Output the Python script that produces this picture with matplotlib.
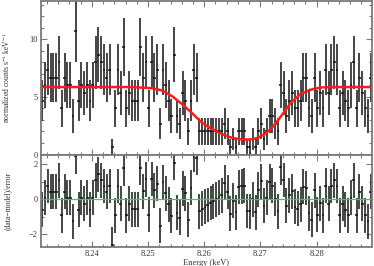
#!/usr/bin/env python3
"""Fe K absorption line spectrum with residuals, XSPEC-like style."""

import numpy as np

import matplotlib

matplotlib.use("Agg")
import matplotlib.pyplot as plt
from matplotlib.ticker import MultipleLocator

plt.rcParams["font.family"] = ["Liberation Serif", "DejaVu Serif"]
plt.rcParams["mathtext.fontset"] = "stix"

E_FIRST = 8.23115     # centre of first bin [keV]
BIN_WIDTH = 0.0005    # [keV]
EXPOSURE = 3000.0     # [s]

# counts per 0.5 eV bin (1 count = 0.667 cts/s/keV)
counts = [
    7, 9, 11, 10, 10, 10, 12, 6, 10, 9, 9, 5, 16, 7, 9, 8, 9, 7, 9, 12,
    13, 12, 11, 10, 11, 1, 6, 11, 8, 14, 6, 8, 7, 7, 7, 14, 10, 12, 6, 12,
    10, 11, 4, 11, 9, 7, 5, 13, 5, 4, 8, 7, 3, 7, 11, 10, 3, 3, 3, 3, 3,
    3, 3, 3, 3, 4, 3, 1, 2, 1, 3, 3, 3, 1, 1, 2, 1, 3, 4, 2, 3, 5, 5, 4, 3,
    9, 8, 5, 7, 8, 6, 6, 7, 10, 10, 6, 5, 10, 6, 8, 6,
    11, 8, 11, 12, 11, 6, 8, 7, 6, 9, 12, 6, 10, 8, 6, 5, 10,
]

# model curve (red), read at points along the line
model_energy = [8.2309, 8.2468, 8.2507, 8.2525, 8.2543, 8.2561, 8.2578, 8.2596,
                8.2614, 8.2632, 8.2649, 8.2667, 8.2681, 8.2696, 8.2710, 8.2724,
                8.2738, 8.2753, 8.2770, 8.2788, 8.2806, 8.2824, 8.2899]
model_rate = [5.85, 5.85, 5.75, 5.55, 5.05, 4.35, 3.6, 2.75,
              2.2, 1.75, 1.45, 1.3, 1.3, 1.45, 1.85, 2.5,
              3.4, 4.4, 5.2, 5.6, 5.8, 5.85, 5.85]

XLIM = (8.2309, 8.2899)
FRAME = "#7a7a7a"
TEXT = "#333333"
BARS = "#141414"


def style_axis(ax):
    for sp in ax.spines.values():
        sp.set_color(FRAME)
        sp.set_linewidth(1.3)
    ax.tick_params(which="both", direction="in", top=True, right=True,
                   color=FRAME, labelcolor=TEXT, labelsize=6, pad=2)
    ax.tick_params(which="major", length=4, width=0.8)
    ax.tick_params(which="minor", length=2, width=0.8)


def main():
    cnt = np.asarray(counts, dtype=float)
    scale = 1.0 / (EXPOSURE * BIN_WIDTH)
    energy = E_FIRST + BIN_WIDTH * np.arange(len(cnt))
    rate = cnt * scale
    rate_err = np.sqrt(cnt) * scale
    model_bin = np.interp(energy, model_energy, model_rate)
    resid = (rate - model_bin) / (np.sqrt(model_bin / scale) * scale)

    fig = plt.figure(figsize=(3.74, 2.66), dpi=100)
    ax1 = fig.add_axes([0.109, 0.417, 0.886, 0.581])
    ax2 = fig.add_axes([0.109, 0.071, 0.886, 0.346], sharex=ax1)

    ax1.errorbar(energy, rate, xerr=BIN_WIDTH / 2, yerr=rate_err, fmt="none",
                 ecolor=BARS, elinewidth=1.1, capsize=0)
    ax1.plot(model_energy, model_rate, color="#ff1a1a", linewidth=1.8)
    ax1.set_xlim(*XLIM)
    ax1.set_ylim(-0.05, 13.35)
    ax1.yaxis.set_major_locator(MultipleLocator(5))
    ax1.yaxis.set_minor_locator(MultipleLocator(1))
    ax1.xaxis.set_major_locator(MultipleLocator(0.01))
    ax1.xaxis.set_minor_locator(MultipleLocator(0.002))
    ax1.set_ylabel(r"normalized counts s$^{-1}$ keV$^{-1}$", fontsize=5.5, color=TEXT)
    ax1.yaxis.set_label_coords(-0.088, 0.5)
    style_axis(ax1)
    ax1.tick_params(labelbottom=False)

    ax2.errorbar(energy, resid, xerr=BIN_WIDTH / 2, yerr=np.ones_like(resid),
                 fmt="none", ecolor=BARS, elinewidth=1.1, capsize=0)
    ax2.axhline(0, color="#1ee61e", linewidth=0.9)
    ax2.set_ylim(-2.75, 2.52)
    ax2.yaxis.set_major_locator(MultipleLocator(2))
    ax2.yaxis.set_minor_locator(MultipleLocator(1))
    ax2.set_ylabel("(data\u2212model)/error", fontsize=5.5, color=TEXT)
    ax2.yaxis.set_label_coords(-0.088, 0.5)
    ax2.set_xlabel("Energy (keV)", fontsize=6, color=TEXT, labelpad=1)
    style_axis(ax2)

    fig.savefig("out.png", dpi=100)
    plt.close(fig)


if __name__ == "__main__":
    main()
